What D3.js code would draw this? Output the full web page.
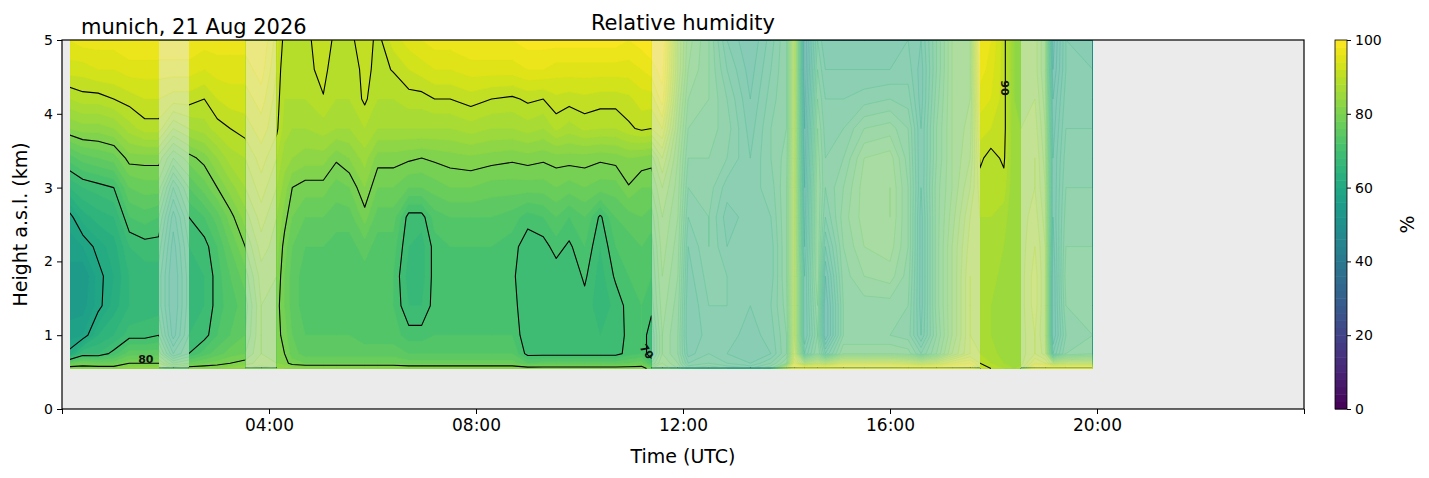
<!DOCTYPE html>
<html>
<head>
<meta charset="utf-8">
<script src="https://cdn.jsdelivr.net/npm/d3@7"></script>
<style>
  body { margin: 0; background: #fff; }
  text { font-family: "DejaVu Sans", sans-serif; }
</style>
</head>
<body>
<svg id="chart" width="1429" height="478"></svg>
<script>
// hours (UTC) of each measured profile
const times = [0.15, 0.4, 0.7, 1.0, 1.3, 1.6, 1.87, 2.15, 2.45, 2.75, 3.0, 3.25, 3.54, 3.85,
  4.15, 4.3, 4.45, 4.7, 5.05, 5.3, 5.55, 5.85, 6.1, 6.4, 6.7, 6.95, 7.2, 7.5, 7.9, 8.3, 8.7,
  9.0, 9.3, 9.55, 9.8, 10.1, 10.4, 10.7, 10.95, 11.2, 11.39, 11.6, 11.9, 12.1, 12.5, 12.85,
  13.3, 13.7, 14.0, 14.15, 14.35, 14.6, 14.75, 15.1, 15.5, 16.0, 16.35, 16.6, 16.9, 17.2,
  17.55, 17.74, 17.95, 18.2, 18.4, 18.53, 18.8, 19.0, 19.15, 19.4, 19.92];

// km a.s.l. of the profile levels
const heights = [0.55, 0.62, 0.75, 1.0, 1.4, 1.8, 2.2, 2.6, 3.0, 3.4, 3.8, 4.2, 4.6, 5.0];

// relative humidity (%) per profile, bottom to top
const rhProfiles = [
  [82, 76, 61, 57, 55, 55, 57, 59, 66, 73, 82, 88, 93, 96],
  [82, 78, 68, 58, 55, 54, 58, 63, 68, 75, 83, 89, 93, 97],
  [82, 77, 68, 64, 59, 59, 61, 65, 69, 76, 83, 89, 94, 97],
  [82, 77, 71, 66, 63, 62, 63, 66, 70, 77, 84, 90, 94, 97],
  [83, 80, 75, 69, 66, 66, 68, 72, 76, 81, 87, 91, 95, 98],
  [83, 80, 75, 69, 67, 67, 69, 73, 77, 81, 89, 92, 95, 98],
  [83, 80, 75, 70, 67, 67, 69, 72, 77, 81, 89, 92, 95, 98],
  [80, 74, 66, 61, 60, 60, 61, 63, 68, 76, 84, 91, 95, 98],
  [82, 76, 70, 68, 67, 67, 68, 70, 74, 79, 86, 91, 95, 98],
  [82, 78, 73, 69, 68, 68, 69, 72, 77, 81, 87, 90, 94, 97],
  [82, 79, 75, 72, 71, 71, 72, 75, 80, 84, 89, 92, 95, 97],
  [83, 80, 77, 74, 73, 74, 76, 79, 83, 87, 90, 93, 95, 97],
  [84, 81, 78, 76, 75, 77, 80, 83, 86, 88, 91, 93, 95, 97],
  [85, 83, 82, 82, 82, 83, 85, 87, 89, 91, 93, 95, 97, 98],
  [84, 82, 81, 81, 81, 82, 83, 84, 86, 88, 90.5, 91, 92, 93],
  [84, 81, 80, 79, 78, 78, 79, 81, 83, 85, 87, 88, 88, 89],
  [83, 79, 77, 76, 75, 75, 76, 78, 80, 84, 86, 88, 88, 89],
  [83, 78, 75, 74, 73, 73, 74, 76, 79, 83, 86, 88, 89, 89],
  [83, 78, 75, 74, 73, 73, 74, 76, 79, 83, 87, 89.8, 91, 92],
  [83, 78, 75, 74, 73, 72, 73, 75, 77, 80.5, 86, 88, 88, 89],
  [83, 78, 75, 74, 73, 72, 73, 75, 78, 82, 86, 88, 88, 89],
  [83, 78, 75, 73, 73, 73, 75, 79, 82, 85, 88, 90.5, 91, 92],
  [83, 78, 75, 73, 72, 72, 73, 75, 78, 81, 86, 88, 89, 89],
  [83, 78, 75, 73, 72, 72, 73, 75, 78, 81, 86, 88, 90.2, 93],
  [83, 77, 74, 71, 68, 67, 68, 69, 76, 80.5, 86, 89, 92, 95],
  [83, 77, 74, 71, 68, 67, 67, 69, 76, 80, 86, 89, 93, 96],
  [83, 77, 74, 72, 71, 71, 71, 73, 77, 80.5, 86, 90, 94, 97],
  [83, 77, 74, 72, 71, 71, 72, 74, 78, 81, 86, 90, 94, 97],
  [83, 77, 74, 72, 71, 71, 72, 74, 78, 81.5, 87, 91, 95, 98],
  [83, 77, 74, 72, 71, 71, 72, 74, 77, 81, 86, 90, 95, 98],
  [83, 77, 74, 72, 71, 70.5, 71, 73, 77, 80.5, 86, 89.5, 95, 98],
  [82, 74, 69, 68, 68, 68, 68.5, 71, 77, 81, 87, 90.5, 96, 99],
  [82, 75, 69, 68, 69, 68, 69, 72, 77, 80.5, 86, 90, 96, 99],
  [82, 75, 69, 68, 68, 68.5, 71, 74, 78, 81, 88.5, 91.5, 95, 99],
  [82, 75, 69, 68, 68, 68, 69.5, 72, 77, 81, 87, 91, 95, 99],
  [82, 75, 69, 68, 69, 70.5, 72, 74, 78, 81, 88.5, 91.5, 95, 99],
  [82, 75, 69, 68, 67, 67, 68, 69.5, 77, 80.5, 88, 91, 95, 99],
  [82, 75, 69, 68, 68.5, 70.5, 72, 74, 77, 81, 88, 91, 95, 99],
  [82, 76, 71, 71, 71, 72, 73, 75, 79.8, 82, 89.5, 91.5, 95, 98],
  [82, 77, 72, 72, 72, 73, 74, 76, 78, 81.5, 90.5, 93, 96, 99],
  [78, 72, 68, 68, 71, 72, 73, 75, 78, 81, 90, 93, 97, 100],
  [80, 78, 76, 76, 77, 78, 79, 80, 82, 86, 92, 97, 99, 100],
  [76, 74, 72, 72, 73, 74, 75, 76, 77, 78, 80, 82, 84, 84],
  [70, 66, 63, 62, 62, 63, 64, 66, 68, 70, 72, 74, 76, 77],
  [72, 68, 66, 65, 66, 67, 68, 68, 69, 70, 71, 72, 72, 72],
  [70, 66, 64, 65, 66, 66, 64, 63, 65, 68, 69, 68, 66, 64],
  [68, 64, 62, 63, 64, 64, 64, 65, 65, 64, 63, 62, 61, 60],
  [72, 68, 64, 65, 66, 65, 65, 66, 67, 68, 68, 67, 66, 65],
  [90, 74, 70, 70, 71, 72, 72, 72, 72, 71, 70, 70, 70, 70],
  [100, 92, 88, 86, 86, 86, 86, 86, 86, 86, 86, 86, 86, 86],
  [100, 82, 64, 60, 60, 60, 58, 57, 56, 55, 54, 53, 52, 52],
  [100, 86, 72, 70, 72, 74, 74, 74, 74, 73, 72, 70, 68, 66],
  [100, 84, 64, 56, 56, 58, 62, 66, 68, 68, 67, 66, 64, 62],
  [100, 90, 74, 70, 70, 71, 72, 73, 72, 70, 68, 66, 64, 63],
  [100, 90, 74, 70, 71, 74, 76, 77, 77, 76, 72, 67, 64, 63],
  [100, 90, 74, 70, 71, 75, 77, 78, 78, 77, 73, 68, 64, 63],
  [100, 88, 73, 69, 70, 71, 72, 72, 72, 71, 70, 67, 65, 64],
  [100, 86, 68, 62, 61, 61, 61, 61, 62, 62, 62, 61, 61, 62],
  [100, 88, 74, 72, 73, 73, 73, 73, 73, 72, 72, 71, 70, 70],
  [100, 92, 82, 80, 80, 80, 80, 79, 78, 78, 78, 78, 78, 78],
  [100, 94, 88, 88, 88, 88, 87, 86, 84, 82, 81, 80, 80, 80],
  [92, 90, 88, 87, 86, 86, 87, 88, 89, 90.5, 93, 95, 97, 98],
  [90, 88, 87, 86, 86, 87, 87, 88, 89, 89, 92, 94, 95, 96],
  [88, 86, 85, 85, 85, 85, 86, 87, 89, 90.5, 91, 91, 91, 91],
  [86, 84, 84, 84, 84, 84, 84, 84, 84, 84, 84, 84, 84, 84],
  [87, 85, 85, 85, 85, 85, 85, 85, 84, 84, 84, 83, 83, 83],
  [100, 92, 88, 88, 89, 89, 88, 87, 86, 86, 85, 84, 83, 83],
  [100, 90, 85, 84, 84, 84, 84, 83, 82, 81, 80, 79, 78, 78],
  [100, 84, 62, 58, 58, 58, 59, 60, 60, 60, 59, 58, 56, 55],
  [100, 86, 70, 68, 70, 71, 70, 69, 68, 67, 66, 65, 64, 64],
  [100, 86, 72, 70, 70, 70, 70, 69, 68, 67, 66, 65, 64, 63]
];

// periods with good data quality (drawn opaque) and flagged periods (faded)
const goodPeriods = [[0.155, 1.874], [2.454, 3.54], [4.15, 11.39], [17.74, 18.53]];
const flaggedPeriods = [[1.874, 2.454], [3.54, 4.15], [11.39, 17.74], [18.53, 19.92]];

const fillLevels = d3.range(0, 100, 2);
const lineLevels = [60, 70, 80, 90];
const lineLabels = [
  { t: 1.62, h: 0.67, text: "80", rot: 0 },
  { t: 11.3, h: 0.78, text: "70", rot: 55 },
  { t: 18.22, h: 4.35, text: "90", rot: 90 }
];
const hourTicks = [0, 4, 8, 12, 16, 20, 24];
const heightTicks = [0, 1, 2, 3, 4, 5];
const cbarTicks = [0, 20, 40, 60, 80, 100];

const svg = d3.select("#chart");
const x = d3.scaleLinear().domain([0, 24]).range([62, 1304]);
const y = d3.scaleLinear().domain([0, 5]).range([409, 40]);
const color = v => d3.interpolateViridis(Math.min(1, (v + 1) / 100));

// grid -> contours
const nx = times.length, ny = heights.length;
const values = new Array(nx * ny);
for (let j = 0; j < ny; j++)
  for (let i = 0; i < nx; i++) values[j * nx + i] = rhProfiles[i][j];

const colToTime = d3.scaleLinear().domain(d3.range(nx)).range(times).clamp(true);
const rowToHeight = d3.scaleLinear().domain(d3.range(ny)).range(heights).clamp(true);
const toPx = (c) => [x(colToTime(c[0] - 0.5)), y(rowToHeight(c[1] - 0.5))];
const proj = d3.geoTransform({
  point(px, py) { const p = toPx([px, py]); this.stream.point(p[0], p[1]); }
});
const geo = d3.geoPath(proj);

const bands = d3.contours().size([nx, ny]).thresholds(fillLevels)(values);
const isos = d3.contours().size([nx, ny]).thresholds(lineLevels)(values);

// clip paths
const defs = svg.append("defs");
function addClip(id, periods) {
  const cp = defs.append("clipPath").attr("id", id);
  cp.selectAll("rect").data(periods).enter().append("rect")
    .attr("x", d => x(d[0])).attr("width", d => x(d[1]) - x(d[0]))
    .attr("y", y(5)).attr("height", y(0) - y(5));
}
addClip("goodClip", goodPeriods);
addClip("flagClip", flaggedPeriods);

// axes background
svg.append("rect")
  .attr("x", x(0)).attr("y", y(5))
  .attr("width", x(24) - x(0)).attr("height", y(0) - y(5))
  .attr("fill", "#ebebeb");

// opaque part
svg.append("g").attr("clip-path", "url(#goodClip)")
  .selectAll("path").data(bands).enter().append("path")
  .attr("d", geo)
  .attr("fill", d => color(d.value))
  .attr("stroke", d => color(d.value))
  .attr("stroke-width", 0.4);

// faded part
svg.append("g").attr("clip-path", "url(#flagClip)").attr("opacity", 0.5)
  .selectAll("path").data(bands).enter().append("path")
  .attr("d", geo)
  .attr("fill", d => color(d.value));

svg.append("g").attr("clip-path", "url(#flagClip)")
  .selectAll("path").data(bands.filter(d => d.value > 0)).enter().append("path")
  .attr("d", geo)
  .attr("fill", "none")
  .attr("stroke", d => color(d.value))
  .attr("stroke-opacity", 0.35)
  .attr("stroke-width", 0.7);

// black contour lines, without the grid border edges
const xMin = x(times[0]), xMax = x(times[nx - 1]);
const yMin = y(heights[0]), yMax = y(heights[ny - 1]);
const near = (a, b) => Math.abs(a - b) < 1e-6;
function isoLines(geom) {
  const out = [];
  geom.coordinates.forEach(poly => poly.forEach(ring => {
    const pts = ring.map(toPx);
    let cur = [];
    for (let k = 0; k < pts.length - 1; k++) {
      const a = pts[k], b = pts[k + 1];
      const border = (near(a[0], xMin) && near(b[0], xMin)) || (near(a[0], xMax) && near(b[0], xMax)) ||
                     (near(a[1], yMin) && near(b[1], yMin)) || (near(a[1], yMax) && near(b[1], yMax));
      if (border) { if (cur.length > 1) out.push(cur); cur = []; }
      else { if (!cur.length) cur.push(a); cur.push(b); }
    }
    if (cur.length > 1) out.push(cur);
  }));
  return out;
}
const lineGen = d3.line().curve(d3.curveLinear);
const lineG = svg.append("g").attr("clip-path", "url(#goodClip)");
isos.forEach(iso => {
  lineG.selectAll(null).data(isoLines(iso)).enter().append("path")
    .attr("d", lineGen)
    .attr("fill", "none")
    .attr("stroke", "#000")
    .attr("stroke-width", 1.1)
    .attr("stroke-linejoin", "round");
});

svg.append("g").selectAll("text").data(lineLabels).enter().append("text")
  .attr("transform", d => `translate(${x(d.t)},${y(d.h)}) rotate(${d.rot})`)
  .attr("text-anchor", "middle").attr("dy", "0.35em")
  .attr("font-size", 11).attr("font-weight", "bold").attr("fill", "#111")
  .text(d => d.text);

// frame
svg.append("rect")
  .attr("x", x(0)).attr("y", y(5))
  .attr("width", x(24) - x(0)).attr("height", y(0) - y(5))
  .attr("fill", "none").attr("stroke", "#000").attr("stroke-width", 1.2);

// axes
const pad2 = h => (h < 10 ? "0" : "") + h + ":00";
const xAxis = svg.append("g").attr("transform", `translate(0,${y(0)})`)
  .call(d3.axisBottom(x).tickValues(hourTicks).tickSize(5).tickPadding(5)
    .tickFormat(h => (h === 0 || h === 24) ? "" : pad2(h)));
xAxis.select(".domain").remove();
xAxis.selectAll("text").attr("font-size", 17).attr("font-family", "DejaVu Sans").attr("fill", "#000");

const yAxis = svg.append("g").attr("transform", `translate(${x(0)},0)`)
  .call(d3.axisLeft(y).tickValues(heightTicks).tickFormat(d3.format("d")).tickSize(5).tickPadding(4));
yAxis.select(".domain").remove();
yAxis.selectAll("text").attr("font-size", 14).attr("font-family", "DejaVu Sans").attr("fill", "#000");

// colorbar
const cb = d3.scaleLinear().domain([0, 100]).range([409, 40]);
const cbX = 1335, cbW = 12;
svg.append("g").selectAll("rect").data(fillLevels).enter().append("rect")
  .attr("x", cbX).attr("width", cbW)
  .attr("y", d => cb(d + 2)).attr("height", d => cb(d) - cb(d + 2) + 0.5)
  .attr("fill", d => color(d));
svg.append("rect").attr("x", cbX).attr("y", cb(100)).attr("width", cbW).attr("height", cb(0) - cb(100))
  .attr("fill", "none").attr("stroke", "#000").attr("stroke-width", 0.8);
const cAxis = svg.append("g").attr("transform", `translate(${cbX + cbW},0)`)
  .call(d3.axisRight(cb).tickValues(cbarTicks).tickSize(4).tickPadding(4));
cAxis.select(".domain").remove();
cAxis.selectAll("text").attr("font-size", 14).attr("font-family", "DejaVu Sans").attr("fill", "#000");

// texts
svg.append("text").attr("x", 683).attr("y", 30).attr("text-anchor", "middle")
  .attr("font-size", 21).text("Relative humidity");
svg.append("text").attr("x", 81).attr("y", 34)
  .attr("font-size", 21).text("munich, 21 Aug 2026");
svg.append("text").attr("x", 683).attr("y", 463).attr("text-anchor", "middle")
  .attr("font-size", 19).text("Time (UTC)");
svg.append("text").attr("transform", `translate(27,${(y(0) + y(5)) / 2}) rotate(-90)`)
  .attr("text-anchor", "middle").attr("font-size", 19).text("Height a.s.l. (km)");
svg.append("text").attr("transform", `translate(1414,${(cb(0) + cb(100)) / 2}) rotate(-90)`)
  .attr("text-anchor", "middle").attr("font-size", 19).text("%");
</script>
</body>
</html>
